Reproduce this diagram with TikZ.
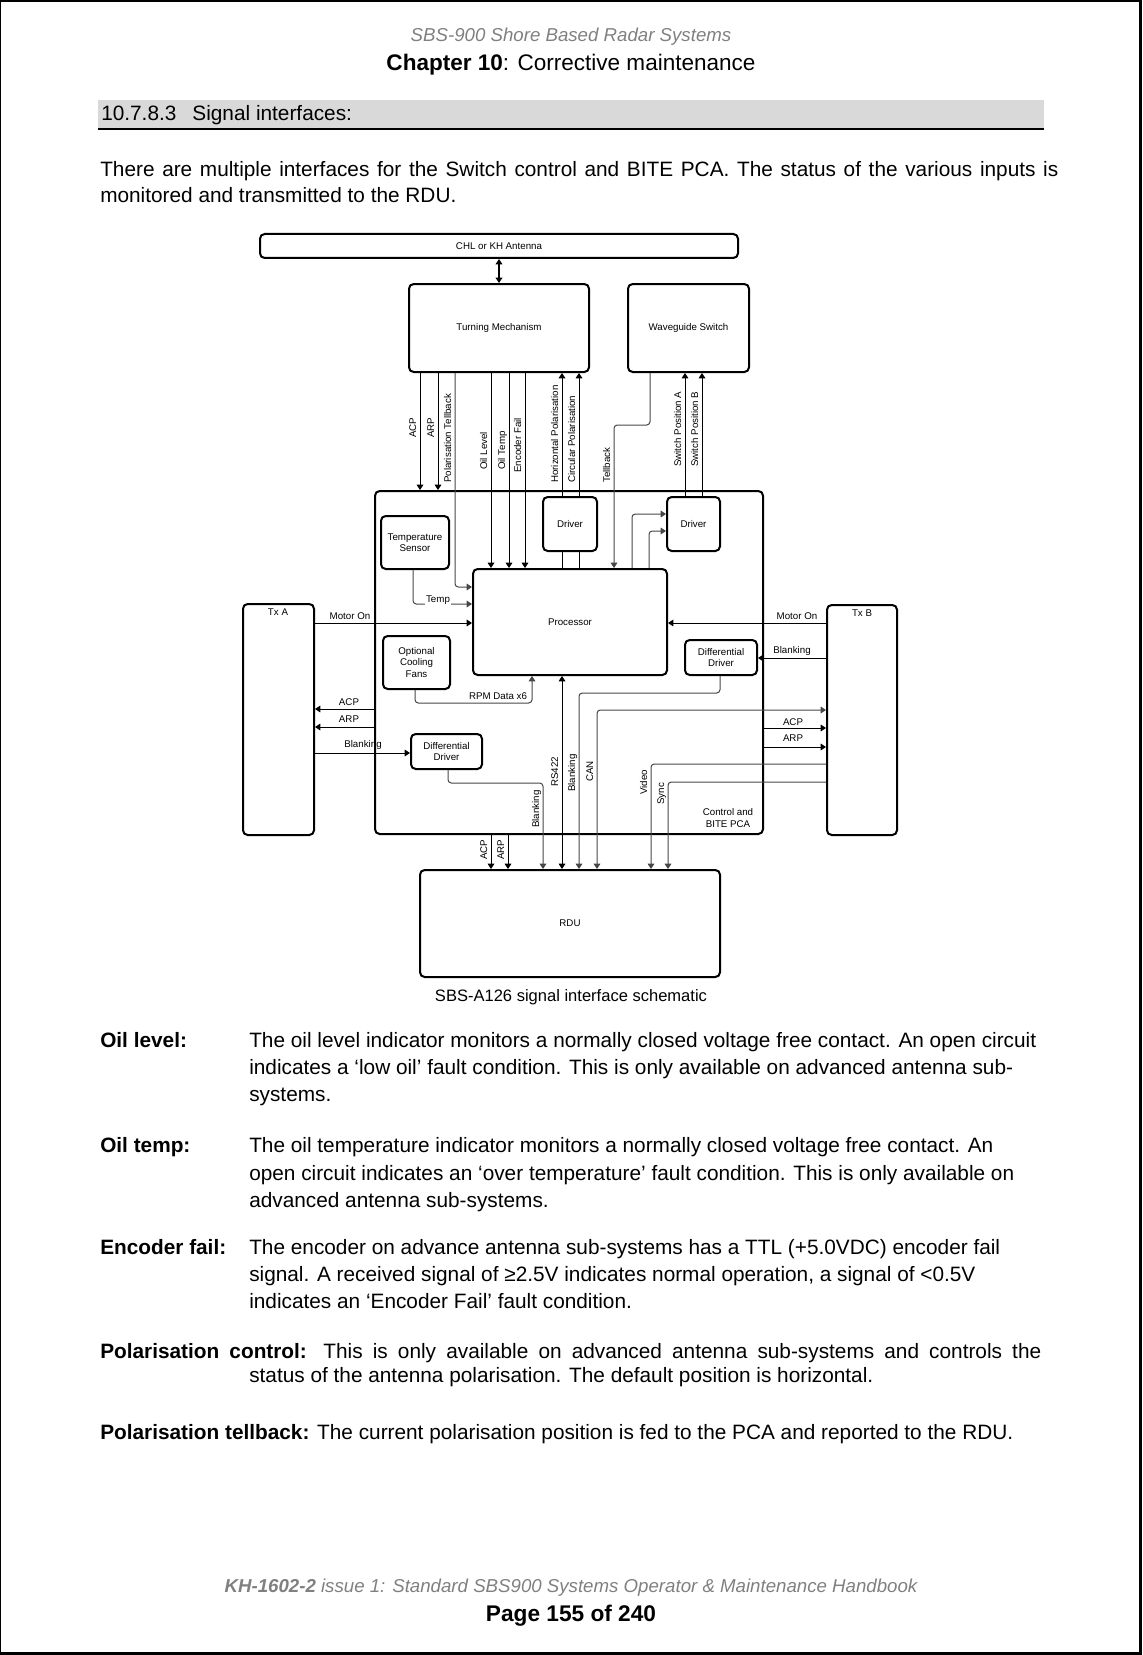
\documentclass[tikz,border=0pt]{standalone}
\usepackage{fontspec}
\setmainfont{Liberation Sans}
\usetikzlibrary{arrows.meta}
\newcommand\dgf{\fontsize{7.3pt}{8.6pt}\selectfont}
\newcommand\bodyf{\fontsize{15.6pt}{18pt}\selectfont}
\newcommand\bx[6]{\node[box, minimum width={(#4-#2)*0.75pt}, minimum height={(#5-#3)*0.75pt}] (#1) at ({(#2+#4)/2},{(#3+#5)/2}) {#6};}
\begin{document}
\begin{tikzpicture}[x=0.75pt,y=-0.75pt,
  box/.style={draw, line width=1.5pt, rounded corners=3.5pt, inner sep=0pt, align=center, font=\dgf},
  ln/.style={line width=0.75pt},
  gl/.style={line width=0.75pt, draw=black!72},
  rc/.style={rounded corners=2.5pt},
  arr/.style={-{Triangle[length=4pt,width=5pt]}},
  barr/.style={{Triangle[length=4pt,width=5pt]}-{Triangle[length=4pt,width=5pt]}},
  lbl/.style={font=\dgf, inner sep=0.8pt},
  wl/.style={font=\dgf, inner sep=0.8pt, fill=white},
  vl/.style={font=\dgf, rotate=90, anchor=base west, inner sep=0pt},
  txt/.style={font=\bodyf, anchor=base west, inner sep=0pt},
]
\useasboundingbox (0,0) rectangle (1142,1655);
% page border
\fill (0,0) rectangle (1142,2);
\fill (0,0) rectangle (1.3,1655);
\fill (1139,0) rectangle (1142,1655);
\fill (0,1652) rectangle (1142,1655);

% header
\node[anchor=base, inner sep=0pt, font=\fontsize{14pt}{16pt}\selectfont\itshape, text=black!50] (hdr) at (571,42) {SBS-900 Shore Based Radar Systems};
\node[anchor=base, inner sep=0pt, font=\fontsize{16.9pt}{19pt}\selectfont] (chap) at (571,71) {\textbf{Chapter 10}: Corrective maintenance};
\fill[black!15] (98,100) rectangle (1044,129);
\draw[line width=1.5pt] (98,129.5) -- (1044,129.5);
\node[txt] (sec) at (101,121) {10.7.8.3\hspace{12pt}Signal interfaces:};
\node[txt] (p1) at (100,177) {\makebox[718.5pt][s]{There are multiple interfaces for the Switch control and BITE PCA. The status of the various inputs is}};
\node[txt] (p2) at (100,203) {monitored and transmitted to the RDU.};

% ---------------- diagram boxes
\bx{ant}{260}{234}{738}{258}{CHL or KH Antenna}
\bx{tm}{409}{284}{589}{372}{Turning Mechanism}
\bx{wg}{628}{284}{749}{372}{Waveguide Switch}
\bx{pca}{375}{491}{763}{834}{}
\bx{txa}{243}{604}{314}{835}{}
\bx{txb}{827}{605}{897}{835}{}
\bx{ts}{381}{516}{449}{569}{Temperature\\Sensor}
\bx{fans}{383}{636}{450}{689}{Optional\\Cooling\\Fans}
\bx{ddl}{411}{734}{482}{769}{Differential\\Driver}
\bx{proc}{473}{569}{667}{675}{Processor}
\bx{drm}{543}{497}{597}{551}{Driver}
\bx{drr}{667}{497}{720}{551}{Driver}
\bx{ddr}{685}{640}{757}{675}{Differential\\Driver}
\bx{rdu}{420}{870}{720}{977}{RDU}
\node[lbl] (txal) at (278,612) {Tx A};
\node[lbl] (txbl) at (862,613) {Tx B};
\node[lbl, align=center] (pcal) at (728,818) {Control and\\BITE PCA};

% ---------------- connectors top
\draw[line width=1.2pt, barr] (499,0 |- ant.south) -- (499,0 |- tm.north);
\draw[ln,arr] (420,0 |- tm.south) -- (420,0 |- pca.north);
\draw[ln,arr] (438,0 |- tm.south) -- (438,0 |- pca.north);
\draw[gl,arr,rc] (455,0 |- tm.south) |- (proc.west |- 0,587);
\draw[ln,arr] (491,0 |- tm.south) -- (491,0 |- proc.north);
\draw[ln,arr] (509,0 |- tm.south) -- (509,0 |- proc.north);
\draw[ln,arr] (525,0 |- tm.south) -- (525,0 |- proc.north);
\draw[ln] (562,0 |- proc.north) -- (562,0 |- drm.south);
\draw[ln] (579,0 |- proc.north) -- (579,0 |- drm.south);
\draw[ln,arr] (562,0 |- drm.north) -- (562,0 |- tm.south);
\draw[ln,arr] (579,0 |- drm.north) -- (579,0 |- tm.south);
\draw[gl,arr,rc] (650,0 |- wg.south) -- (650,425) -- (614,425) -- (614,0 |- proc.north);
\draw[gl,arr,rc] (632,0 |- proc.north) |- (drr.west |- 0,514);
\draw[gl,arr,rc] (649,0 |- proc.north) |- (drr.west |- 0,531);
\draw[ln,arr] (685,0 |- drr.north) -- (685,0 |- wg.south);
\draw[ln,arr] (702,0 |- drr.north) -- (702,0 |- wg.south);

\node[vl] (l1) at (416,438) {ACP};
\node[vl] (l2) at (434,438) {ARP};
\node[vl] (l3) at (451,483) {Polarisation Tellback};
\node[vl] (l4) at (487,470) {Oil Level};
\node[vl] (l5) at (505,470) {Oil Temp};
\node[vl] (l6) at (521,473) {Encoder Fail};
\node[vl] (l7) at (558,483) {Horizontal Polarisation};
\node[vl] (l8) at (575,483) {Circular Polarisation};
\node[vl] (l9) at (610,483) {Tellback};
\node[vl] (l10) at (681,467) {Switch Position A};
\node[vl] (l11) at (698,467) {Switch Position B};

% ---------------- inside PCA, left side
\draw[gl,arr,rc] (413,0 |- ts.south) |- (proc.west |- 0,604);
\node[wl] (ltemp) at (438,600) {Temp};
\draw[ln,arr] (txa.east |- 0,623) -- (proc.west |- 0,623);
\node[lbl] (lmol) at (350,616) {Motor On};
\draw[gl,arr,rc] (415,0 |- fans.south) |- (532,703) -- (532,0 |- proc.south);
\node[lbl] (lrpm) at (498,696) {RPM Data x6};
\draw[ln,arr] (pca.west |- 0,709) -- (txa.east |- 0,709);
\node[wl] (lacpl) at (349,702) {ACP};
\draw[ln,arr] (pca.west |- 0,727) -- (txa.east |- 0,727);
\node[lbl] (larpl) at (349,719) {ARP};
\draw[ln,arr] (txa.east |- 0,753) -- (ddl.west |- 0,753);
\node[lbl] (lbll) at (363,745) {Blanking};
\draw[gl,arr,rc] (448,0 |- ddl.south) |- (543,783) -- (543,0 |- rdu.north);
\node[vl] (lbl1) at (539,828) {Blanking};
\draw[ln,barr] (562,0 |- proc.south) -- (562,0 |- rdu.north);
\node[vl] (lrs) at (558,787) {RS422};

% ---------------- right side
\draw[ln,arr] (txb.west |- 0,623) -- (proc.east |- 0,623);
\node[lbl] (lmor) at (797,616) {Motor On};
\draw[ln,arr] (txb.west |- 0,658) -- (ddr.east |- 0,658);
\node[lbl] (lblr) at (792,651) {Blanking};
\draw[gl,arr,rc] (720,0 |- ddr.south) |- (579,693) -- (579,0 |- rdu.north);
\node[vl] (lbl2) at (575,792) {Blanking};
\draw[gl,barr,rc] (txb.west |- 0,710) -| (597,0 |- rdu.north);
\node[vl] (lcan) at (593,782) {CAN};
\draw[ln,arr] (pca.east |- 0,728) -- (txb.west |- 0,728);
\node[wl] (lacpr) at (793,722) {ACP};
\draw[ln,arr] (pca.east |- 0,747) -- (txb.west |- 0,747);
\node[lbl] (larpr) at (793,738) {ARP};
\draw[gl,arr,rc] (txb.west |- 0,764) -| (651,0 |- rdu.north);
\node[vl] (lvid) at (647,795) {Video};
\draw[gl,arr,rc] (txb.west |- 0,782) -| (668,0 |- rdu.north);
\node[vl] (lsync) at (664,805) {Sync};
\draw[ln,arr] (491,0 |- pca.south) -- (491,0 |- rdu.north);
\node[vl] (lacpb) at (487,860) {ACP};
\draw[ln,arr] (508,0 |- pca.south) -- (508,0 |- rdu.north);
\node[vl] (larpb) at (504,860) {ARP};

\node[anchor=base, inner sep=0pt, font=\fontsize{12.4pt}{14pt}\selectfont] (cap) at (571,1001) {SBS-A126 signal interface schematic};

% ---------------- definitions
\node[txt] (d1a) at (100,1047) {\textbf{Oil level:}};
\node[txt] (d1b) at (249,1047) {The oil level indicator monitors a normally closed voltage free contact. An open circuit};
\node[txt] (d1c) at (249,1074) {indicates a ‘low oil’ fault condition. This is only available on advanced antenna sub-};
\node[txt] (d1d) at (249,1101) {systems.};
\node[txt] (d2a) at (100,1152) {\textbf{Oil temp:}};
\node[txt] (d2b) at (249,1152) {The oil temperature indicator monitors a normally closed voltage free contact. An};
\node[txt] (d2c) at (249,1180) {open circuit indicates an ‘over temperature’ fault condition. This is only available on};
\node[txt] (d2d) at (249,1207) {advanced antenna sub-systems.};
\node[txt] (d3a) at (100,1254) {\textbf{Encoder fail:}};
\node[txt] (d3b) at (249,1254) {The encoder on advance antenna sub-systems has a TTL (+5.0VDC) encoder fail};
\node[txt] (d3c) at (249,1281) {signal. A received signal of ≥2.5V indicates normal operation, a signal of <0.5V};
\node[txt] (d3d) at (249,1308) {indicates an ‘Encoder Fail’ fault condition.};
\node[txt] (d4a) at (100,1358) {\makebox[705.75pt][s]{\textbf{Polarisation control:} This is only available on advanced antenna sub-systems and controls the}};
\node[txt] (d4b) at (249,1382) {status of the antenna polarisation. The default position is horizontal.};
\node[txt] (d5a) at (100,1439) {\textbf{Polarisation tellback:} The current polarisation position is fed to the PCA and reported to the RDU.};

% footer
\node[anchor=base, inner sep=0pt, font=\fontsize{14pt}{16pt}\selectfont\itshape, text=black!50] (foot) at (571,1592) {\textbf{KH-1602-2} issue 1: Standard SBS900 Systems Operator \& Maintenance Handbook};
\node[anchor=base, inner sep=0pt, font=\fontsize{17pt}{19pt}\selectfont\bfseries] (page) at (571,1621) {Page 155 of 240};
\end{tikzpicture}
\end{document}
